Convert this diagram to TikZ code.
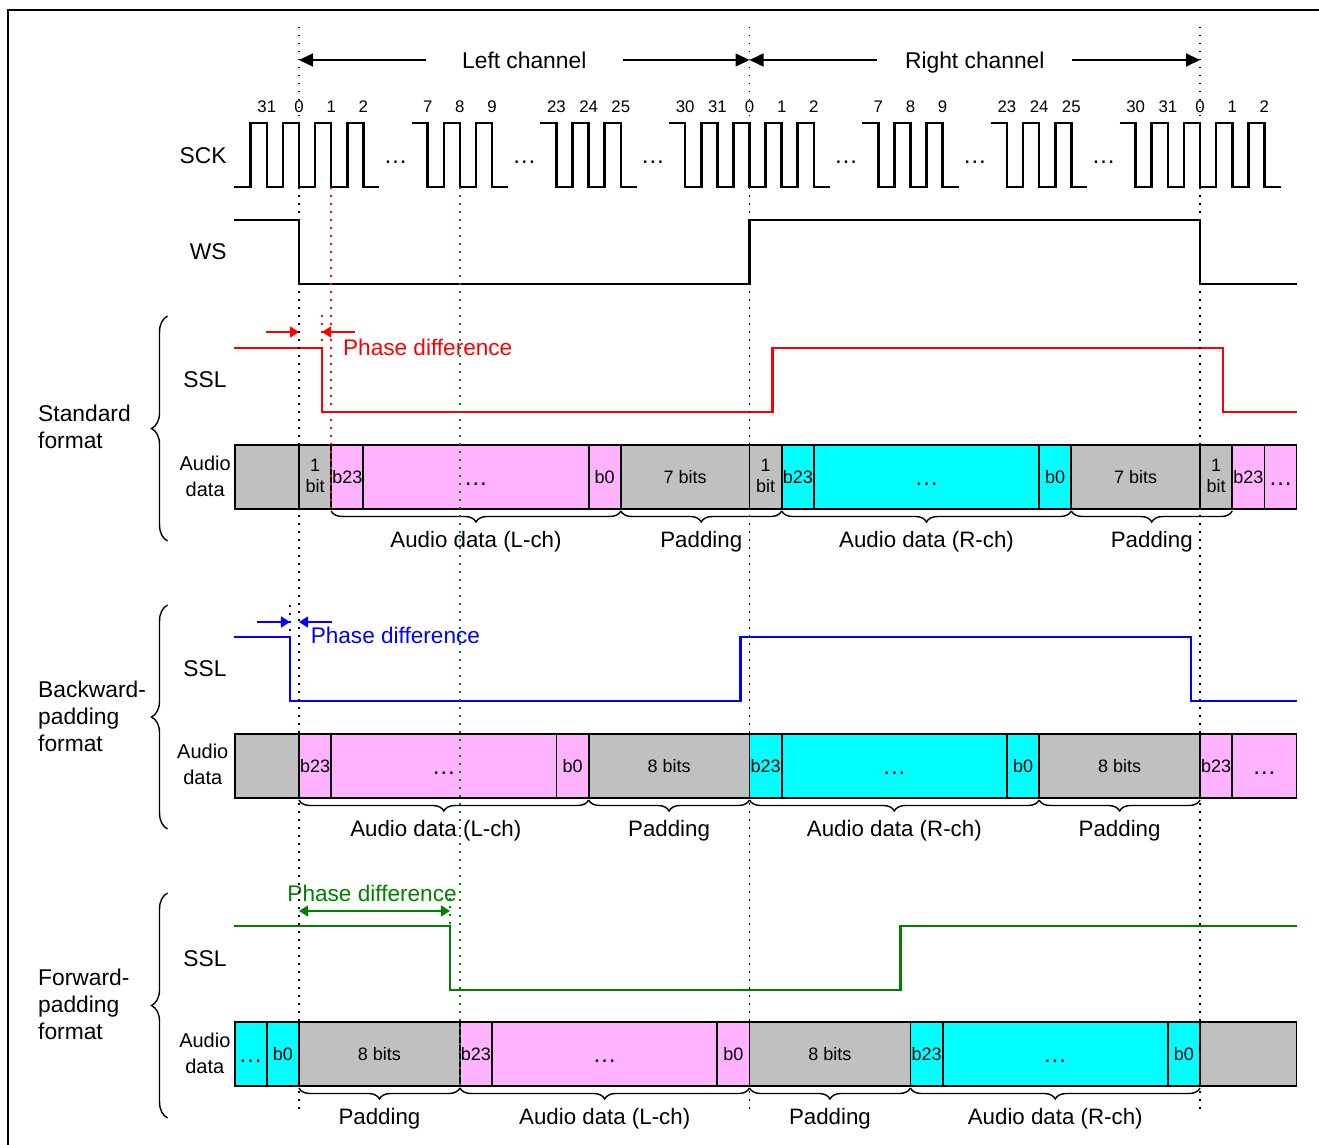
\documentclass[tikz,border=0pt]{standalone}
\usepackage{fontspec}
\setmainfont{Liberation Sans}
\usetikzlibrary{arrows.meta,decorations.pathreplacing}

\definecolor{padgray}{RGB}{192,192,192}
\definecolor{lchpink}{RGB}{255,179,255}
\definecolor{rchcyan}{RGB}{0,255,255}
\definecolor{stdred}{RGB}{255,0,0}
\definecolor{bwdblue}{RGB}{0,0,255}
\definecolor{fwdgreen}{RGB}{0,128,0}

\newcommand\bigdots{{\fontsize{24}{24}\selectfont\ldots}}
\newcommand\celldots{{\fontsize{24}{24}\selectfont\raisebox{-2pt}{\ldots}}}

% one row of audio data cells, #1 = top of the row
\newcommand\datarow[2]{%
  \foreach \a/\b/\fc/\t in {#2} {
    \draw[cell, fill=\fc] (\a,#1) rectangle (\b,#1+64);
    \node[celltxt, anchor=base] at ({(\a+\b)/2},#1+38) {\t};
  }}

\begin{document}
\begin{tikzpicture}[x=16.09pt, y=-1pt,
  sig/.style={line width=2.6pt},
  cell/.style={line width=1.8pt},
  guide/.style={line width=1.5pt, dash pattern=on 1.5pt off 6.5pt},
  chan/.style={>={Triangle[length=14pt,width=13pt]}, ->, line width=1.6pt},
  phase/.style={>={Triangle[length=9pt,width=11pt]}, ->, line width=1.5pt},
  lbl/.style={font=\fontsize{22.8}{27}\selectfont, inner sep=0pt},
  phtxt/.style={font=\fontsize{22.6}{26}\selectfont, inner sep=0pt},
  adlbl/.style={font=\fontsize{20}{26}\selectfont, inner sep=0pt, align=center, anchor=east},
  blbl/.style={font=\fontsize{22.3}{26}\selectfont, inner sep=0pt, anchor=base, yshift=-38pt},
  num/.style={font=\fontsize{16.8}{20}\selectfont, inner sep=0pt, anchor=base},
  celltxt/.style={font=\fontsize{18}{21}\selectfont, inner sep=0pt, align=center},
  ubrace/.style={decorate, decoration={brace, mirror, amplitude=11pt, raise=2pt}, line width=1.4pt},
  lbrace/.style={decorate, decoration={brace, amplitude=16pt}, line width=1.4pt}]

\useasboundingbox (-18.583,0) rectangle (63.393,1145);
\draw[line width=2pt] (-18.09,1160) -- (-18.09,10) -- (64,10);

%% channels
\node[lbl, inner xsep=36pt] (lch) at (14,60) {Left channel};
\node[lbl, inner xsep=27.7pt, text depth=0pt] (rch) at (42,60) {Right channel};
\draw[chan] (lch.west) -- (0,60);
\draw[chan] (lch.east) -- (28,60);
\draw[chan] (rch.west) -- (28,60);
\draw[chan] (rch.east) -- (56,60);

%% SCK
\def\sckhi{123}
\def\scklo{187}
\node[lbl, anchor=base east] (sck) at (-4.49,163) {SCK};
\draw[sig] (-4.04,\scklo) -| (-3,\sckhi) -| (-2,\scklo) -| (-1,\sckhi) -| (0,\scklo)
   -| (1,\sckhi) -| (2,\scklo) -| (3,\sckhi) -| (4,\scklo) -- (5,\scklo);
\foreach \k/\n in {-2/31,0/0,2/1,4/2} \node[num] at (\k,113) {\n};
\foreach \s in {0,28} {
   \draw[sig] (7+\s,\sckhi) -| (8+\s,\scklo) -| (9+\s,\sckhi) -| (10+\s,\scklo)
      -| (11+\s,\sckhi) -| (12+\s,\scklo) -- (13+\s,\scklo);
   \draw[sig] (15+\s,\sckhi) -| (16+\s,\scklo) -| (17+\s,\sckhi) -| (18+\s,\scklo)
      -| (19+\s,\sckhi) -| (20+\s,\scklo) -- (21+\s,\scklo);
   \draw[sig] (23+\s,\sckhi) -| (24+\s,\scklo) -| (25+\s,\sckhi) -| (26+\s,\scklo)
      -| (27+\s,\sckhi) -| (28+\s,\scklo) -| (29+\s,\sckhi) -| (30+\s,\scklo)
      -| (31+\s,\sckhi) -| (32+\s,\scklo) -- (33+\s,\scklo);
   \foreach \k/\n in {8/7,10/8,12/9,16/23,18/24,20/25,24/30,26/31,28/0,30/1,32/2}
      \node[num] at (\k+\s,113) {\n};
   \foreach \k in {6,14,22} \node[lbl, anchor=base] at (\k+\s,163.5) {\bigdots};
}

%% WS
\node[lbl, anchor=base east] (ws) at (-4.49,259) {WS};
\draw[sig] (-4.04,220) -| (0,284) -| (28,220) -| (56,284) -- (62,284);

%% Standard format
\node[lbl, anchor=base east] (sslA) at (-4.49,387) {SSL};
\draw[sig, stdred] (-4.04,348) -| (1.43,412) -| (29.43,348) -| (57.43,412) -- (62,412);
\draw[phase, stdred] (-2.05,332) -- (0,332);
\draw[phase, stdred] (3.48,332) -- (1.43,332);
\draw[guide, stdred] (1.43,315) -- (1.43,342);
\node[phtxt, stdred, anchor=base west] (phA) at (2.73,355) {Phase difference};

\node[adlbl] (adA) at (-4.23,476) {Audio\\data};
\datarow{445}{-4/0/padgray/{}, 0/2/padgray/{}, 2/4/lchpink/b23, 4/18/lchpink/{\celldots},
   18/20/lchpink/b0, 20/28/padgray/7 bits, 28/30/padgray/{}, 30/32/rchcyan/b23,
   32/46/rchcyan/{\celldots}, 46/48/rchcyan/b0, 48/56/padgray/7 bits, 56/58/padgray/{},
   58/60/lchpink/b23, 60/62/lchpink/{\celldots}}
\foreach \k in {0,28,56} \node[celltxt] at (\k+1,476) {1\\bit};

\draw[ubrace] (2,509) -- node[blbl] {Audio data (L-ch)} (20,509);
\draw[ubrace] (20,509) -- node[blbl] {Padding} (30,509);
\draw[ubrace] (30,509) -- node[blbl] {Audio data (R-ch)} (48,509);
\draw[ubrace] (48,509) -- node[blbl] {Padding} (58,509);

\draw[lbrace] (-8.17,541) -- (-8.17,316);
\node[lbl, anchor=west, align=left] (fmtA) at (-16.22,427) {Standard\\format};

%% Backward-padding format
\node[lbl, anchor=base east] (sslB) at (-4.49,676) {SSL};
\draw[sig, bwdblue] (-4.04,637) -| (-0.56,701) -| (27.44,637) -| (55.44,701) -- (62,701);
\draw[phase, bwdblue] (-2.61,622) -- (-0.56,622);
\draw[phase, bwdblue] (2.03,622) -- (0,622);
\draw[guide, bwdblue] (-0.56,605) -- (-0.56,632);
\node[phtxt, bwdblue, anchor=base west] (phB) at (0.72,643.5) {Phase difference};

\node[adlbl] (adB) at (-4.38,764) {Audio\\data};
\datarow{734}{-4/0/padgray/{}, 0/2/lchpink/b23, 2/16/lchpink/{\celldots}, 16/18/lchpink/b0,
   18/28/padgray/8 bits, 28/30/rchcyan/b23, 30/44/rchcyan/{\celldots}, 44/46/rchcyan/b0,
   46/56/padgray/8 bits, 56/58/lchpink/b23, 58/62/lchpink/{\celldots}}

\draw[ubrace] (0,798) -- node[blbl, xshift=-8pt] {Audio data (L-ch)} (18,798);
\draw[ubrace] (18,798) -- node[blbl] {Padding} (28,798);
\draw[ubrace] (28,798) -- node[blbl] {Audio data (R-ch)} (46,798);
\draw[ubrace] (46,798) -- node[blbl] {Padding} (56,798);

\draw[lbrace] (-8.17,829) -- (-8.17,605);
\node[lbl, anchor=west, align=left] (fmtB) at (-16.22,716) {Backward-\\padding\\format};

%% Forward-padding format
\node[lbl, anchor=base east] (sslC) at (-4.49,966) {SSL};
\draw[sig, fwdgreen] (-4.04,926) -| (9.38,990) -| (37.38,926) -- (62,926);
\draw[phase, <->, fwdgreen] (0,911) -- (9.38,911);
\draw[guide, fwdgreen] (9.38,898) -- (9.38,925);
\node[phtxt, fwdgreen, anchor=base] (phC) at (4.54,901) {Phase difference};

\node[adlbl] (adC) at (-4.25,1053) {Audio\\data};
\datarow{1022}{-4/-2/rchcyan/{\celldots}, -2/0/rchcyan/b0, 0/10/padgray/8 bits,
   10/12/lchpink/b23, 12/26/lchpink/{\celldots}, 26/28/lchpink/b0, 28/38/padgray/8 bits,
   38/40/rchcyan/b23, 40/54/rchcyan/{\celldots}, 54/56/rchcyan/b0, 56/62/padgray/{}}

\draw[ubrace] (0,1086) -- node[blbl] {Padding} (10,1086);
\draw[ubrace] (10,1086) -- node[blbl] {Audio data (L-ch)} (28,1086);
\draw[ubrace] (28,1086) -- node[blbl] {Padding} (38,1086);
\draw[ubrace] (38,1086) -- node[blbl] {Audio data (R-ch)} (56,1086);

\draw[lbrace] (-8.17,1118) -- (-8.17,893);
\node[lbl, anchor=west, align=left] (fmtC) at (-16.22,1004.5) {Forward-\\padding\\format};

%% dotted guides
\foreach \k in {0,28,56} \draw[guide] (\k,27) -- (\k,1115);
\draw[guide, stdred] (2,187) -- (2,508);
\draw[guide, fwdgreen] (10,187) -- (10,1086);

\end{tikzpicture}
\end{document}
